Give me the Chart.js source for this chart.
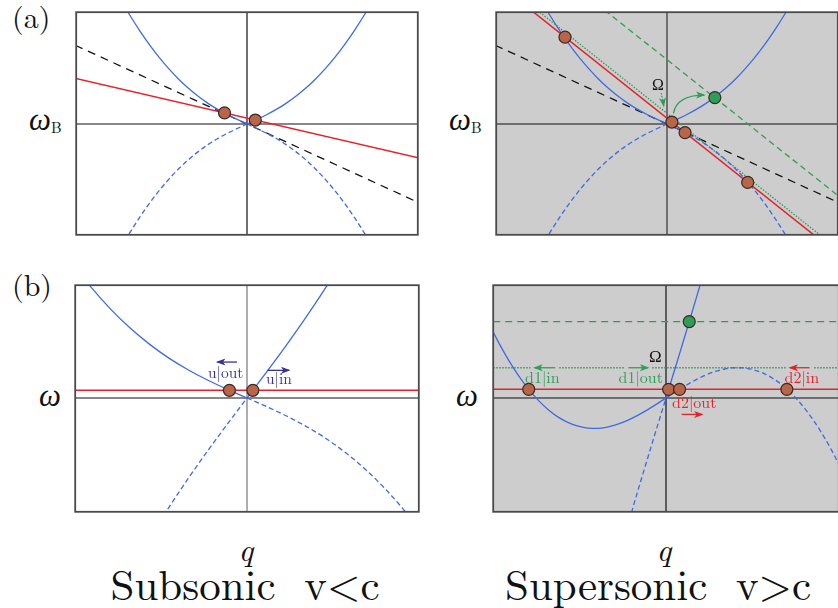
<!DOCTYPE html>
<html>
<head>
<meta charset="utf-8">
<script src="https://cdn.jsdelivr.net/npm/chart.js@4.4.1/dist/chart.umd.min.js"></script>
<style>
html,body{margin:0;padding:0;background:#fff;}
body{width:838px;height:608px;overflow:hidden;position:relative;color:#111;}
.box{position:absolute;}
.lbl{position:absolute;line-height:1;white-space:pre;}
.mark{display:inline-block;width:0;height:0;}
</style>
</head>
<body>
<div class="box"><canvas id="a1"></canvas></div>
<div class="box"><canvas id="a2"></canvas></div>
<div class="box"><canvas id="b1"></canvas></div>
<div class="box"><canvas id="b2"></canvas></div>
<script>
// (a) dispersion branches in the moving frame, sampled on q
const qA = [-125,-120,-110,-100,-90,-80,-70,-60,-50,-40,-30,-20,-10,0,10,20,30,40,50,60,70,80,90,100,110,120,125];
const wUpperA = [121.3,112.8,96.9,82.4,69.1,57.2,46.5,37.0,28.7,21.4,15.1,9.6,4.7,0,4.7,9.6,15.1,21.4,28.7,37.0,46.5,57.2,69.1,82.4,96.9,112.8,121.3];
const wLowerA = [-121.3,-112.8,-96.9,-82.4,-69.1,-57.2,-46.5,-37.0,-28.7,-21.4,-15.1,-9.6,-4.7,0,-4.7,-9.6,-15.1,-21.4,-28.7,-37.0,-46.5,-57.2,-69.1,-82.4,-96.9,-112.8,-121.3];

// straight lines of (a), given at the frame edges
const qEdge = [-176,176];
const wSoundA = [81.7,-81.7];
const wRedSub = [47.4,-35.2];
const wRedSup = [147.7,-135.7];
const wGreenDottedA = [152.7,-130.7];
const wGreenDashedA = [208.4,-75.0];

const qDotsSubA = [-23,8.5];
const wDotsSubA = [11.5,4.1];
const qDotsSupA = [-104.5,5,18.5,82.7];
const wDotsSupA = [90.1,2,-8.9,-60.6];
const qGreenDotA = [49];
const wGreenDotA = [27.3];

// (b) lab frame branches, subsonic
const qB1 = [-180,-160,-140,-120,-100,-80,-60,-40,-20,0,20,40,60,80,100,120,140,160,180];
const wB1 = [141.0,115.2,92.5,72.8,55.9,41.4,29.1,18.4,8.9,0,-8.9,-18.4,-29.1,-41.4,-55.9,-72.8,-92.5,-115.2,-141.0];
const qB2 = [-90,-80,-60,-40,-20,-10,0,10,20,40,60,80,90];
const wB2 = [-129.3,-113.4,-83.1,-54.4,-26.9,-13.4,0,13.4,26.9,54.4,83.1,113.4,129.3];
const wLevelSub = 8;
const qDotsSubB = [-18,6];

// (b) lab frame branches, supersonic
const qC1 = [-180,-170,-160,-150,-140,-130,-120,-110,-100,-90,-80,-70,-60,-50,-40,-30,-20,-10,0,10,20,30,40,50,60,70,80,90,100,110,120,130,140,150,160,170,180];
const wC1 = [74.54,54.81,37.18,21.65,8.20,-3.21,-12.6,-20.03,-25.56,-29.23,-31.14,-31.39,-30.10,-27.41,-23.50,-18.56,-12.83,-6.55,0,6.55,12.83,18.56,23.50,27.41,30.10,31.39,31.14,29.23,25.56,20.03,12.6,3.21,-8.20,-21.65,-37.18,-54.81,-74.54];
const qC2 = [-40,-35,-30,-25,-20,-15,-10,-5,0,5,10,15,20,25,30,35,40];
const wC2 = [-134.9,-117.5,-100.2,-83.2,-66.4,-49.7,-33.0,-16.5,0,16.5,33.0,49.7,66.4,83.2,100.2,117.5,134.9];
const wLevelSup = 9;
const wOmega = 31.4;
const wGreenDashB = 79.3;
const qDotsSupB = [-140.6,2.7,13.9,123.8];
const qGreenDotB = [23.8];

const BLUE = "#3f6be0";
const RED = "#e3232c";
const GREEN = "#2e9d57";
const BROWN = "#b8654a";
const GRAY = "#cdcdcd";
const NAVY = "#34348f";
const P = 3;

function pts(qs, ws){
return qs.map((q,i)=>({x:q,y:ws[i]}));
}

function branch(qs, ws, sgn){
return pts(qs,ws).filter(p=>p.x*sgn>=0);
}

function level(range, w){
return range.map(q=>({x:q,y:w}));
}

function curve(data, color, width, dash, order){
return {
data,
showLine:true,
borderColor:color,
borderWidth:width,
borderDash:dash||[],
pointRadius:0,
pointHoverRadius:0,
cubicInterpolationMode:"monotone",
fill:false,
order
};
}

function dots(data, fill){
return {
data,
showLine:false,
pointRadius:6,
pointHoverRadius:6,
pointBackgroundColor:fill,
pointBorderColor:"#3a2a22",
pointBorderWidth:1.2,
order:0
};
}

function axes(xr, yr, vColor){
return [
curve([{x:xr[0],y:0},{x:xr[1],y:0}],"#111",1.2,[],6),
curve([{x:0,y:yr[0]},{x:0,y:yr[1]}],vColor||"#111",1.2,[],6)
];
}

// background, frame and small arrows drawn through the panel scales
function decor(cfg){
return {
id:"decor",
beforeDatasetsDraw(chart){
let a=chart.chartArea, ctx=chart.ctx;
if(cfg.bg){
ctx.save();
ctx.fillStyle=cfg.bg;
ctx.fillRect(a.left,a.top,a.right-a.left,a.bottom-a.top);
ctx.restore();
}
},
afterDatasetsDraw(chart){
let ctx=chart.ctx, a=chart.chartArea;
let xs=chart.scales.x, ys=chart.scales.y;
ctx.save();
(cfg.arrows||[]).forEach(ar=>{
let x1=xs.getPixelForValue(ar.from[0]), y1=ys.getPixelForValue(ar.from[1]);
let x2=xs.getPixelForValue(ar.to[0]), y2=ys.getPixelForValue(ar.to[1]);
if(ar.cover){
ctx.fillStyle=cfg.bg;
ctx.fillRect(Math.min(x1,x2)-4,y1-2.5,Math.abs(x2-x1)+8,5);
}
let cx=x1, cy=y1;
ctx.strokeStyle=ar.color;
ctx.lineWidth=1.3;
ctx.setLineDash(ar.dash||[]);
ctx.beginPath();
ctx.moveTo(x1,y1);
if(ar.via){
cx=xs.getPixelForValue(ar.via[0]);
cy=ys.getPixelForValue(ar.via[1]);
ctx.quadraticCurveTo(cx,cy,x2,y2);
}else{
ctx.lineTo(x2,y2);
}
ctx.stroke();
ctx.setLineDash([]);
let ang=Math.atan2(y2-cy,x2-cx), L=8, W=3.5;
ctx.fillStyle=ar.color;
ctx.beginPath();
ctx.moveTo(x2+Math.cos(ang)*1.5,y2+Math.sin(ang)*1.5);
ctx.lineTo(x2-L*Math.cos(ang)+W*Math.sin(ang),y2-L*Math.sin(ang)-W*Math.cos(ang));
ctx.lineTo(x2-L*0.7*Math.cos(ang),y2-L*0.7*Math.sin(ang));
ctx.lineTo(x2-L*Math.cos(ang)-W*Math.sin(ang),y2-L*Math.sin(ang)+W*Math.cos(ang));
ctx.closePath();
ctx.fill();
});
ctx.strokeStyle="#4a4a4a";
ctx.lineWidth=1.8;
ctx.strokeRect(a.left,a.top,a.right-a.left,a.bottom-a.top);
ctx.restore();
}
};
}

function panel(id, frame, xr, yr, datasets, cfg){
let cv=document.getElementById(id);
let box=cv.parentNode;
box.style.left=(frame[0]-P)+"px";
box.style.top=(frame[1]-P)+"px";
cv.width=frame[2]+2*P;
cv.height=frame[3]+2*P;
return new Chart(cv,{
type:"scatter",
data:{datasets},
options:{
responsive:false,
animation:false,
events:[],
layout:{padding:P},
plugins:{legend:{display:false},tooltip:{enabled:false}},
scales:{
x:{type:"linear",display:false,min:xr[0],max:xr[1]},
y:{type:"linear",display:false,min:yr[0],max:yr[1]}
}
},
plugins:[decor(cfg)]
});
}

let rA=[-175,175], hA=[-115,116];
let rB1=[-176,176], rB2=[-177,177], hB=[-118,117];

panel("a1",[72,8,350,231],rA,hA,[
dots(pts(qDotsSubA,wDotsSubA),BROWN),
curve(branch(qA,wUpperA,-1),BLUE,1.3,[],2),
curve(branch(qA,wUpperA,1),BLUE,1.3,[],2),
curve(branch(qA,wLowerA,-1),BLUE,1.3,[5,3],2),
curve(branch(qA,wLowerA,1),BLUE,1.3,[5,3],2),
curve(pts(qEdge,wRedSub),RED,1.5,[],3),
curve(pts(qEdge,wSoundA),"#111",1.2,[8,6],4),
...axes(rA,hA)
],{});

panel("a2",[492,8,350,231],rA,hA,[
dots(pts(qDotsSupA,wDotsSupA),BROWN),
dots(pts(qGreenDotA,wGreenDotA),GREEN),
curve(branch(qA,wUpperA,-1),BLUE,1.3,[],2),
curve(branch(qA,wUpperA,1),BLUE,1.3,[],2),
curve(branch(qA,wLowerA,-1),BLUE,1.3,[5,3],2),
curve(branch(qA,wLowerA,1),BLUE,1.3,[5,3],2),
curve(pts(qEdge,wRedSup),RED,1.5,[],3),
curve(pts(qEdge,wGreenDottedA),GREEN,1.3,[1.5,1.5],3),
curve(pts(qEdge,wGreenDashedA),GREEN,1.3,[6,4],3),
curve(pts(qEdge,wSoundA),"#111",1.2,[8,6],4),
...axes(rA,hA,"#333")
],{
bg:GRAY,
arrows:[
{from:[-6,32],via:[-4.5,26],to:[-3.4,19],color:GREEN,dash:[1.5,1.5]},
{from:[6.6,11],via:[10,30],to:[38,30],color:GREEN}
]
});

panel("b1",[71,281,352,235],rB1,hB,[
dots(level(qDotsSubB,wLevelSub),BROWN),
curve(branch(qB1,wB1,-1),BLUE,1.3,[],2),
curve(branch(qB1,wB1,1),BLUE,1.3,[5,3],2),
curve(branch(qB2,wB2,1),BLUE,1.3,[],2),
curve(branch(qB2,wB2,-1),BLUE,1.3,[5,3],2),
curve(level(rB1,wLevelSub),RED,1.5,[],3),
...axes(rB1,hB,"#777")
],{
arrows:[
{from:[-10.3,37.3],to:[-30.3,37.3],color:NAVY},
{from:[21,28.7],to:[43,28.7],color:NAVY}
]
});

panel("b2",[489,281,354,235],rB2,hB,[
dots(level(qDotsSupB,wLevelSup),BROWN),
dots(level(qGreenDotB,wGreenDashB),GREEN),
curve(branch(qC1,wC1,-1),BLUE,1.3,[],2),
curve(branch(qC1,wC1,1),BLUE,1.3,[5,3],2),
curve(branch(qC2,wC2,1),BLUE,1.3,[],2),
curve(branch(qC2,wC2,-1),BLUE,1.3,[5,3],2),
curve(level(rB2,wLevelSup),RED,1.5,[],3),
curve(level(rB2,wOmega),GREEN,1.3,[1.5,1.5],3),
curve(level(rB2,wGreenDashB),GREEN,1.3,[7,5],3),
...axes(rB2,hB)
],{
bg:GRAY,
arrows:[
{from:[-113.5,wOmega],to:[-134.5,wOmega],color:GREEN,cover:true},
{from:[-38.5,wOmega],to:[-18.5,wOmega],color:GREEN,cover:true},
{from:[147,wOmega],to:[127,wOmega],color:RED,cover:true},
{from:[16,-17],to:[37,-17],color:RED}
]
});

const ROMAN = "'Latin Modern Roman', 'Liberation Serif', serif";
const GREEK = "'Liberation Serif', serif";

// places a text so that its baseline sits at y = base
function label(text, x, base, size, opt){
opt=opt||{};
let d=document.createElement("div");
d.className="lbl";
d.style.fontFamily=opt.family||ROMAN;
d.style.fontSize=size+"px";
d.style.fontWeight="normal";
if(opt.italic) d.style.fontStyle="italic";
if(opt.color) d.style.color=opt.color;
d.appendChild(document.createTextNode(text));
let m=document.createElement("span");
m.className="mark";
d.appendChild(m);
d.style.left=x+"px";
d.style.top="0px";
document.body.appendChild(d);
d.style.top=(base-m.offsetTop)+"px";
if(opt.center) d.style.left=(x-d.offsetWidth/2)+"px";
}

label("(a)",12,28,30);
label("(b)",12,296,30);
label("ω",29,130,31,{italic:true,family:GREEK});
label("B",51,133,15);
label("ω",449,130,31,{italic:true,family:GREEK});
label("B",471,133,15);
label("ω",39,406,31,{italic:true,family:GREEK});
label("ω",456,406,31,{italic:true,family:GREEK});
label("q",246,561,32,{italic:true,center:true});
label("q",664,561,32,{italic:true,center:true});
label("Subsonic  v<c",245,600,43,{center:true});
label("Supersonic  v>c",658,600,43,{center:true});
label("Ω",652,89.5,16,{family:GREEK});
label("Ω",649,362,17,{family:GREEK});
label("u|out",225.5,378,15.5,{center:true,color:NAVY});
label("u|in",279,384,15.5,{center:true,color:NAVY});
label("d1|in",542.5,383,16,{center:true,color:GREEN});
label("d1|out",640.5,383,16,{center:true,color:GREEN});
label("d2|out",694,408,16,{center:true,color:RED});
label("d2|in",802,383,16,{center:true,color:RED});
</script>
</body>
</html>
